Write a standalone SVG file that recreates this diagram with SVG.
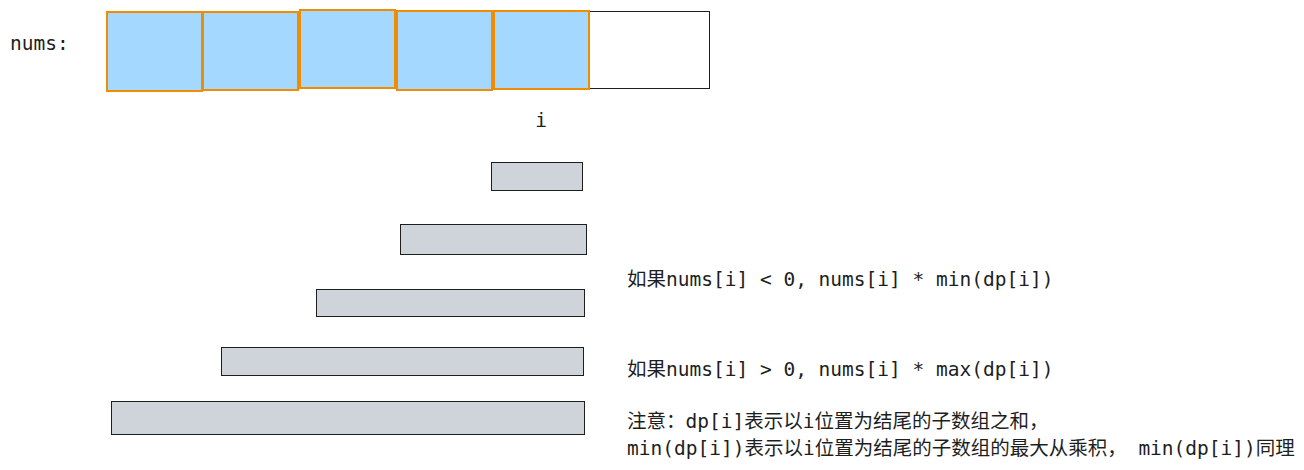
<svg xmlns="http://www.w3.org/2000/svg" width="1304" height="470" viewBox="0 0 1304 470">
<style>
.t{font-family:"DejaVu Sans Mono","Noto Sans CJK SC",monospace;font-size:19.5px;fill:#1e1e1e}
.cell{fill:#a5d8ff;stroke:#f08c00;stroke-width:2}
.bar{fill:#ced4da;stroke:#1e1e1e;stroke-width:1}
</style>
<rect width="1304" height="470" fill="#ffffff"/>
<g id="label-nums"><text class="t" x="10" y="50">nums:</text></g>
<g id="array">
<rect x="107.5" y="11.5" width="602" height="77" fill="#ffffff" stroke="#1e1e1e" stroke-width="1"/>
<rect class="cell" x="107" y="12" width="95" height="79"/>
<rect class="cell" x="203" y="12" width="95" height="78"/>
<rect class="cell" x="300" y="10" width="95" height="78"/>
<rect class="cell" x="397" y="11" width="95" height="79"/>
<rect class="cell" x="494" y="11" width="95" height="78"/>
</g>
<g id="label-i"><text class="t" x="541" y="127" text-anchor="middle">i</text></g>
<g id="bars">
<rect class="bar" x="491.5" y="162.5" width="91" height="28"/>
<rect class="bar" x="400.5" y="224.5" width="186" height="30"/>
<rect class="bar" x="316.5" y="289.5" width="268" height="27"/>
<rect class="bar" x="221.5" y="347.5" width="362" height="28"/>
<rect class="bar" x="111.5" y="401.5" width="473" height="33"/>
</g>
<g id="notes">
<text class="t" x="627" y="286">如果nums[i] &lt; 0, nums[i] * min(dp[i])</text>
<text class="t" x="627" y="376">如果nums[i] &gt; 0, nums[i] * max(dp[i])</text>
<text class="t" x="627" y="428">注意：dp[i]表示以i位置为结尾的子数组之和，</text>
<text class="t" x="627" y="455" xml:space="preserve">min(dp[i])表示以i位置为结尾的子数组的最大从乘积， min(dp[i])同理</text>
</g>
<g id="connectors"/>
</svg>
